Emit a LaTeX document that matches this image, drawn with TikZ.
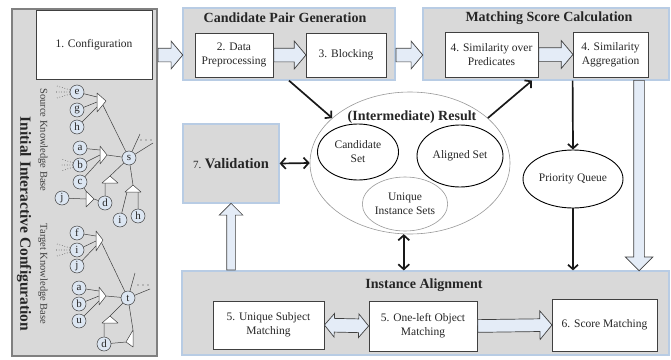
\documentclass[tikz,border=0pt]{standalone}
\usepackage{fontspec}
\setmainfont{Liberation Serif}
\usetikzlibrary{shapes.geometric,shapes.arrows,arrows.meta,shadows,calc}

\definecolor{panelgray}{RGB}{217,217,217}
\definecolor{panelline}{RGB}{184,204,228}
\definecolor{arrowfill}{RGB}{228,236,247}
\definecolor{nodefill}{RGB}{220,230,242}
\definecolor{darkline}{RGB}{64,64,64}
\definecolor{inktext}{RGB}{38,38,38}

\tikzset{
  panel/.style={draw=panelline, line width=1.2pt, fill=panelgray, inner sep=0pt},
  initpanel/.style={draw=black!50, line width=1.5pt, fill=panelgray, inner sep=0pt},
  whitebox/.style={draw=darkline, line width=0.8pt, fill=white, align=center,
    inner sep=2pt, text=inktext, font=\fontsize{11.5}{14}\selectfont,
    drop shadow={shadow xshift=1.2pt, shadow yshift=-1.2pt, fill=black!70}},
  paneltitle/.style={text=inktext, font=\bfseries\fontsize{14}{16}\selectfont},
  setel/.style={ellipse, draw=black, line width=0.9pt, fill=white, inner sep=0pt,
    align=center, text=inktext, font=\fontsize{11.5}{14}\selectfont},
  softel/.style={ellipse, draw=black!40, line width=0.6pt, fill=white, inner sep=0pt,
    align=center, text=inktext, font=\fontsize{11.5}{14}\selectfont},
  % shaft width = 2 * inner ysep, head width = shaft + 2 * head extend
  hollow/.style={single arrow, draw=darkline, line width=0.7pt, fill=arrowfill,
    inner xsep=0pt, inner ysep=6.5pt, single arrow head extend=7pt,
    single arrow head indent=0pt, single arrow tip angle=100, anchor=tail},
  twin/.style={double arrow, draw=darkline, line width=0.7pt, fill=arrowfill,
    inner xsep=0pt, inner ysep=6.5pt, double arrow head extend=5pt,
    double arrow head indent=0pt, double arrow tip angle=100},
  blk/.style={draw=black!90, line width=1.7pt, -{Straight Barb[length=4.5pt,width=10pt]}},
  blkboth/.style={draw=black!90, line width=1.7pt,
    {Straight Barb[length=5pt,width=11pt]}-{Straight Barb[length=5pt,width=11pt]}},
  kn/.style={circle, draw=darkline, line width=0.5pt, fill=nodefill, minimum size=14pt,
    inner sep=0pt, text=inktext, font=\fontsize{11}{11}\selectfont},
  kgl/.style={draw=darkline, line width=0.5pt},
  kgdot/.style={draw=darkline, line width=0.6pt, dotted},
  tri/.style={draw=darkline, line width=0.5pt, fill=white, line join=round},
}

% block arrow from #2 to #3
\newcommand\blockarr[3][]{%
  \path let \p1=(#2), \p2=(#3),
            \n1={veclen(\x2-\x1,\y2-\y1)},
            \n2={atan2(\y2-\y1,\x2-\x1)} in
    node[hollow,#1,minimum height=\n1,rotate=\n2] at (\p1) {};}
% two-headed block arrow between #2 and #3
\newcommand\twinarr[3][]{%
  \path let \p1=(#2), \p2=(#3),
            \n1={veclen(\x2-\x1,\y2-\y1)},
            \n2={atan2(\y2-\y1,\x2-\x1)} in
    node[twin,#1,minimum height=\n1,rotate=\n2] at ($(\p1)!0.5!(\p2)$) {};}

\begin{document}
\begin{tikzpicture}[x=1pt,y=-1pt]
\useasboundingbox (0,0) rectangle (671,359);

% ---------------- initial interactive configuration ----------------
\node[initpanel, minimum width=145pt, minimum height=347pt] (init) at (84.5,182.5) {};
\node[whitebox, minimum width=116pt, minimum height=69pt] (config) at (94,44.5) {1. Configuration};
\node[rotate=-90, text=inktext, font=\bfseries\fontsize{15.5}{17}\selectfont] (iic) at (24,224)
  {Initial Interactive Configuration};
\node[rotate=-90, text=darkline, font=\fontsize{10.5}{12}\selectfont] (skb) at (43,140)
  {Source Knowledge Base};
\node[rotate=-90, text=darkline, font=\fontsize{10.5}{12}\selectfont] (tkb) at (43,274)
  {Target Knowledge Base};

% source knowledge base graph
\foreach \n/\x/\y/\l in {se/77/92/e, sg/77/110/g, sh/77/127/h, sa/80/148/a, sb/80/165/b,
  sc/80/182/c, sj/62/198/j, sd/105/203/d, s/129/158/s, si/120/220/i, shh/138/216/h}
  \node[kn] (\n) at (\x,\y) {\l};

\coordinate (t1a) at (97,97);  \coordinate (t1b) at (97,102);
\coordinate (t1c) at (97,107); \coordinate (t1top) at (97,93);
\coordinate (t2a) at (100,150); \coordinate (t2b) at (100,155);
\coordinate (t2c) at (100,160); \coordinate (t2tip) at (107,155);
\coordinate (t3in) at (86,199); \coordinate (t3top) at (86,191); \coordinate (t3tip) at (94,199);
\coordinate (t4apex) at (110,176); \coordinate (t4base) at (105,183);
\coordinate (t5apex) at (133,185); \coordinate (t5l) at (127,192); \coordinate (t5r) at (138,192);
\coordinate (so1) at (140,134); \coordinate (so2) at (153,143);
\coordinate (sed1) at (57,86); \coordinate (sed2) at (56,92); \coordinate (sed3) at (57,98);
\coordinate (sbd1) at (61,159); \coordinate (sbd2) at (60,165); \coordinate (sbd3) at (61,171);

\draw[kgl] (se) -- (t1a) (sg) -- (t1b) (sh) -- (t1c) (s) -- (t1top);
\draw[kgl] (sa) -- (t2a) (sb) -- (t2b) (sc) -- (t2c) (t2tip) -- (s);
\draw[kgl] (sj) -- (t3in) (sc) -- (t3top) (t3tip) -- (sd);
\draw[kgl] (s) -- (t4apex) (sd) -- (t4base);
\draw[kgl] (s) -- (t5apex) (si) -- (t5l) (shh) -- (t5r);
\draw[kgl] (s) -- (so1) (s) -- (so2);
\draw[kgdot] (se) -- (sed1) (se) -- (sed2) (se) -- (sed3);
\draw[kgdot] (sb) -- (sbd1) (sb) -- (sbd2) (sb) -- (sbd3);
\fill[darkline] (141,140) circle (0.7) (146,140) circle (0.7) (151,140) circle (0.7);
\draw[tri] (97,93) -- (106,101) -- (97,112) -- cycle;
\draw[tri] (100,146) -- (107,155) -- (100,164) -- cycle;
\draw[tri] (86,191) -- (94,199) -- (86,207) -- cycle;
\draw[tri] (110,176) -- (118,183) -- (102,183) -- cycle;
\draw[tri] (133,185) -- (141,192) -- (125,192) -- cycle;

% target knowledge base graph
\foreach \n/\x/\y/\l in {tf/77/233/f, ti/77/250/i, tj/77/266/j, ta/79/288/a, tb/79/304/b,
  tu/79/321/u, t/128/298/t, td/104/344/d}
  \node[kn] (\n) at (\x,\y) {\l};

\coordinate (t6a) at (96,236); \coordinate (t6b) at (96,241);
\coordinate (t6c) at (96,246); \coordinate (t6top) at (96,231);
\coordinate (t7a) at (99,291); \coordinate (t7b) at (99,296);
\coordinate (t7c) at (99,301); \coordinate (t7tip) at (106,296);
\coordinate (t8apex) at (110,316); \coordinate (t8base) at (104,323);
\coordinate (t9top) at (133,330); \coordinate (t9tip) at (126,342);
\coordinate (to1) at (135,273); \coordinate (to2) at (150,289);
\coordinate (tid1) at (57,244); \coordinate (tid2) at (56,250); \coordinate (tid3) at (57,256);

\draw[kgl] (tf) -- (t6a) (ti) -- (t6b) (tj) -- (t6c) (t) -- (t6top);
\draw[kgl] (ta) -- (t7a) (tb) -- (t7b) (tu) -- (t7c) (t7tip) -- (t);
\draw[kgl] (t) -- (t8apex) (td) -- (t8base);
\draw[kgl] (t) -- (t9top) (td) -- (t9tip);
\draw[kgl] (t) -- (to1) (t) -- (to2);
\draw[kgdot] (ti) -- (tid1) (ti) -- (tid2) (ti) -- (tid3);
\fill[darkline] (138,285) circle (0.7) (143,285) circle (0.7) (148,285) circle (0.7);
\draw[tri] (96,231) -- (103,240) -- (96,251) -- cycle;
\draw[tri] (99,287) -- (106,296) -- (99,305) -- cycle;
\draw[tri] (110,316) -- (118,323) -- (102,323) -- cycle;
\draw[tri] (133,330) -- (133,347) -- (126,342) -- cycle;

% ---------------- candidate pair generation ----------------
\node[panel, minimum width=212pt, minimum height=72pt] (cpg) at (289,44) {};
\node[paneltitle] (cpgt) at (285,18) {Candidate Pair Generation};
\node[whitebox, minimum width=78pt, minimum height=44pt] (datapre) at (234,55) {2. Data\\Preprocessing};
\node[whitebox, minimum width=80pt, minimum height=44pt] (blocking) at (346,55) {3. Blocking};

% ---------------- matching score calculation ----------------
\node[panel, minimum width=246pt, minimum height=72pt] (msc) at (546,44) {};
\node[paneltitle] (msct) at (549,18) {Matching Score Calculation};
\node[whitebox, minimum width=93pt, minimum height=45pt] (simpred) at (491.5,54.5) {4. Similarity over\\Predicates};
\node[whitebox, minimum width=75pt, minimum height=45pt] (simagg) at (610.5,54.5) {4. Similarity\\Aggregation};

% ---------------- validation ----------------
\node[panel, minimum width=96pt, minimum height=79pt, text=inktext] (val) at (231,163.5)
  {{\fontsize{11}{13}\selectfont 7. }{\bfseries\fontsize{14.5}{16}\selectfont Validation}};

% ---------------- intermediate result ----------------
\node[softel, minimum width=200pt, minimum height=142pt] (res) at (410,163) {};
\node[paneltitle] (rest) at (412,117) {(Intermediate) Result};
\node[setel, minimum width=81pt, minimum height=56pt] (cand) at (358,152) {Candidate\\Set};
\node[setel, minimum width=86pt, minimum height=62pt] (aligned) at (460,156) {Aligned Set};
\node[softel, minimum width=84pt, minimum height=54pt] (uniq) at (405,204) {Unique\\Instance Sets};
\node[setel, minimum width=100pt, minimum height=58pt] (pq) at (573,179) {Priority Queue};

% ---------------- instance alignment ----------------
\node[panel, minimum width=487pt, minimum height=84pt] (ia) at (425.5,313) {};
\node[paneltitle] (iat) at (424,285) {Instance Alignment};
\node[whitebox, minimum width=111pt, minimum height=48pt] (usm) at (268.5,325) {5. Unique Subject\\Matching};
\node[whitebox, minimum width=108pt, minimum height=50pt] (olm) at (423,326) {5. One-left Object\\Matching};
\node[whitebox, minimum width=105pt, minimum height=52pt] (sm) at (604.5,325) {6. Score Matching};

% ---------------- block arrows ----------------
\coordinate (aggdown) at (639,80);
\blockarr[name=ha]{init.east |- datapre}{cpg.west |- datapre}
\blockarr[name=hb]{datapre.east}{blocking.west}
\blockarr[name=hc]{cpg.east |- blocking}{msc.west |- blocking}
\blockarr[name=hd]{simpred.east}{simagg.west}
\blockarr[name=he, inner ysep=5pt, single arrow head extend=8.5pt, single arrow tip angle=90]{aggdown}{aggdown |- ia.north}
\blockarr[name=hf, inner ysep=4pt, single arrow head extend=7.5pt, single arrow tip angle=90]{val.south |- ia.north}{val.south}
\twinarr[name=hg]{usm.east}{olm.west}
\blockarr[name=hh, inner ysep=6pt, single arrow head extend=8pt]{olm.east}{sm.west}

% ---------------- solid arrows ----------------
\coordinate (predin) at ($(msc.south)+(-14,0)$);
\coordinate (aggleft) at (msc.south -| simagg.west);
\draw[blk] (cpg.south) -- (res.150);
\draw[blk] (res.30) -- (predin);
\draw[blk] (aggleft) -- (pq.north);
\draw[blk] (pq.south) -- (pq.south |- ia.north);
\draw[blkboth] (val.east) -- (res.west);
\draw[blkboth] (res.265) -- (res.265 |- ia.north);
\end{tikzpicture}
\end{document}
